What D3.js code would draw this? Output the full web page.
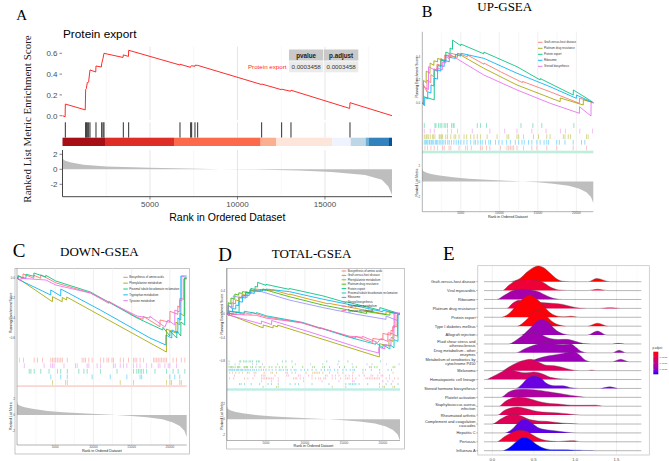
<!DOCTYPE html>
<html><head><meta charset="utf-8">
<script src="https://cdn.jsdelivr.net/npm/d3@7/dist/d3.min.js"></script>
<style>html,body{margin:0;padding:0;background:#fff;}svg{display:block;}</style>
</head><body>
<svg id="fig" width="669" height="461" xmlns="http://www.w3.org/2000/svg"></svg>
<script>
// ======================= DATA =======================
// ---- Panel A : single GSEA plot (Protein export) ----
const A_N = 18830;
const A_ES_RANK  = [0,150,162,1300,1324,1362,1419,1450,1495,1571,1900,1914,2220,2238,2314,2371,3460,3476,3770,3781,6700,6714,7310,7324,7381,7560,7571,7724,11370,11381,12510,12524,13040,13057,16410,16429,18830];
const A_ES_VALUE = [0,-0.01,0.112,0.056,0.253,0.26,0.32,0.315,0.33,0.44,0.42,0.478,0.468,0.50,0.55,0.60,0.56,0.585,0.57,0.629,0.488,0.495,0.465,0.475,0.48,0.475,0.485,0.484,0.30,0.305,0.25,0.255,0.235,0.245,0.07,0.125,0.0];
const A_HITS = [162,1324,1362,1419,1495,1571,1914,2238,2314,2371,3476,3781,6714,7324,7381,7571,7724,11381,12524,13057,16429];
const A_BAR_BREAKS = [0,2429,6371,11324,12200,15419,16467,17324,17514,18657,18830];
const A_METRIC_RANK  = [0,40,150,500,1200,2500,5000,7850,9000,10400,13500,15400,17300,18250,18620,18830];
const A_METRIC_VALUE = [2.2,1.35,1.15,0.9,0.6,0.38,0.22,0.09,0.02,-0.01,-0.16,-0.36,-0.76,-1.4,-2.3,-3.4];
const A_TABLE_HEAD = ["pvalue","p.adjust"];
const A_TABLE_ROW = ["Protein export","0.0003458","0.0003458"];
const A_ES_TICKS = [0,0.2,0.4,0.6];
const A_RM_TICKS = [-2,0,2];
const A_X_TICKS = [5000,10000,15000];

// ---- Panels B–D : multi-set GSEA (ranks in thousands) ----
const N_K = 22.2;
const RM_RANK_K = [0,0.1,0.5,1,2,4,6,8.4,11,13,15,17,19,20.4,21.3,21.9,22.2];
const RM_VALUE  = [1.7,1.35,1.15,1.0,0.8,0.52,0.35,0.22,0.1,0,-0.12,-0.3,-0.55,-0.95,-1.4,-2.0,-2.8];
const X_TICKS_K = [5,10,15,20];

// UP sets
const ES_GRAFT = [[0,0],[0.15,0],[0.16,0.16],[0.6,0.1],[0.61,0.2],[1.1,0.18],[1.11,0.25],[1.5,0.23],[1.51,0.3],[1.9,0.29],[1.91,0.34],[2.4,0.33],[2.41,0.39],[2.9,0.37],[2.91,0.42],[3.7,0.40],[3.71,0.435],[4.6,0.42],[4.61,0.435],[5.85,0.405],[5.86,0.42],[8,0.34],[8.01,0.35],[10.14,0.275],[13,0.18],[13.01,0.19],[16.6,0.10],[20.4,0.0],[20.41,0.046],[22.2,0.005]];
const ES_PLATINUM = [[0,0],[0.15,0],[0.16,0.2],[0.5,0.18],[0.51,0.28],[1.0,0.26],[1.01,0.35],[1.5,0.33],[1.51,0.37],[1.98,0.36],[1.99,0.39],[3.0,0.37],[3.01,0.42],[4.56,0.40],[4.57,0.435],[7.99,0.304],[12.3,0.159],[17.9,0.014],[17.91,0.046],[20.9,-0.015],[20.91,0.03],[22.2,0.005]];
const ES_PROTEIN = [[0,0],[0.15,0],[0.16,0.058],[1.55,0.03],[1.56,0.29],[2.0,0.28],[2.01,0.33],[2.41,0.32],[2.42,0.377],[3.05,0.36],[3.06,0.446],[3.6,0.43],[3.61,0.48],[3.92,0.47],[3.93,0.55],[5.0,0.5],[5.01,0.515],[7.99,0.43],[8.0,0.445],[12.3,0.318],[15.3,0.203],[15.31,0.215],[19.6,0.072],[19.61,0.116],[21.7,0.029],[22.2,0.005]];
const ES_RIBOSOME = [[0,0],[0.15,0],[0.16,-0.015],[0.3,-0.02],[0.31,0.05],[0.7,0.04],[0.71,0.10],[1.12,0.09],[1.13,0.16],[1.5,0.15],[1.51,0.22],[1.98,0.21],[1.99,0.29],[2.4,0.28],[2.41,0.33],[2.84,0.32],[2.85,0.377],[3.5,0.36],[3.51,0.40],[4.3,0.39],[4.31,0.425],[4.99,0.41],[5.0,0.435],[7.99,0.391],[12.3,0.261],[16.6,0.144],[20.0,0.043],[20.01,0.072],[22.2,0.005]];
const ES_STEROID = [[0,0],[0.15,0],[0.16,0.144],[0.8,0.12],[0.81,0.318],[1.89,0.28],[1.9,0.31],[2.6,0.29],[2.61,0.36],[3.05,0.35],[3.06,0.405],[3.47,0.39],[3.48,0.429],[7.99,0.246],[12.3,0.116],[16.6,0.0],[20.4,-0.087],[20.41,-0.03],[21.9,-0.11],[21.91,0.005],[22.2,0.005]];
const HITS_PROTEIN = [0.26,1.64,1.77,2.11,2.32,2.54,2.84,3.05,3.27,3.78,4.0,4.13,7.14,7.57,8.34,12.81,14.35,15.51,19.68];
const HITS_STEROID = [0.26,1.04,1.55,3.27,3.78,4.56,6.49,8.77,10.7,12.29,14.22,16.07,17.96,18.61,20.45,22.09];
const HITS_PLATINUM = [0.26,0.48,0.61,0.78,1.04,1.34,1.47,1.64,2.2,2.32,2.5,2.63,3.05,3.27,3.7,4.13,4.34,4.77,5.42,5.76,6.28,6.71,7.14,7.57,8.42,9.71,11.0,11.22,12.29,12.51,13.15,14.44,15.08,16.16,16.59,18.31,18.52,18.95,19.25,21.31,21.53];
const HITS_RIBOSOME = [0.26,0.4,0.55,0.7,0.9,1.0,1.2,1.35,1.5,1.7,1.85,2.0,2.2,2.4,2.6,2.8,3.0,3.3,3.5,3.8,4.1,4.4,4.7,5.0,5.4,5.8,6.28,6.71,6.92,7.22,7.57,7.78,8.21,8.64,8.85,9.5,9.93,10.36,10.92,11.43,12.08,12.51,12.94,13.24,13.79,14.22,14.87,15.3,15.81,16.16,16.37,17.45,17.79,18.52,19.59,20.67,21.1];
const HITS_GRAFT = [0.35,0.69,1.12,1.55,1.98,2.63,2.84,3.48,3.7,4.77,5.63,5.85,6.36,7.57,7.78,8.34,8.77,10.14,11.0,11.22,11.43,11.65,11.86,12.29,13.15,14.22,14.87,16.16,17.45,19.59,21.31];

// DOWN sets
const ES_BIOSYN = [[0,0],[0.13,0],[0.14,0.03],[0.78,0.0],[0.79,0.045],[2.2,0.0],[2.21,0.03],[3.1,0.0],[3.11,0.035],[5.07,-0.045],[9.61,-0.147],[12,-0.25],[12.01,-0.23],[15.71,-0.39],[16.5,-0.41],[16.51,-0.38],[18.7,-0.484],[18.71,-0.417],[20.0,-0.44],[20.01,-0.33],[21.03,-0.36],[21.04,-0.277],[21.29,-0.29],[21.3,-0.2],[21.81,-0.21],[21.82,-0.007],[22.2,-0.007]];
const ES_PHENYL = [[0,0],[0.13,0],[4.63,-0.234],[4.64,-0.184],[5.91,-0.234],[5.92,-0.192],[6.5,-0.217],[6.51,-0.187],[19.55,-0.737],[19.56,-0.507],[20.78,-0.547],[20.79,-0.437],[21.29,-0.467],[21.3,-0.347],[21.87,-0.377],[21.88,0],[22.2,0]];
const ES_PROXIMAL = [[0,0],[0.13,0],[0.14,0.02],[1.17,0.0],[1.18,0.04],[2.2,0.02],[2.21,0.053],[3.76,0.013],[3.77,0.03],[5.07,-0.027],[9.61,-0.137],[15.71,-0.397],[19.08,-0.517],[19.09,-0.49],[20.0,-0.577],[20.01,-0.527],[20.9,-0.597],[20.91,-0.527],[21.43,-0.577],[21.44,-0.437],[21.94,-0.467],[21.95,0.003],[22.2,0.003]];
const ES_TRYPTO = [[0,0],[0.13,0],[0.14,-0.01],[4.41,-0.167],[4.42,-0.117],[5.72,-0.177],[5.73,-0.107],[10.9,-0.317],[17.4,-0.597],[19.47,-0.667],[19.48,-0.567],[20.25,-0.597],[20.26,-0.517],[21.04,-0.547],[21.05,-0.397],[21.43,-0.417],[21.44,0.023],[22.2,0.023]];
const ES_TYROS = [[0,0],[0.13,0],[0.51,-0.027],[0.52,0.0],[3.76,-0.017],[5.07,-0.067],[9.61,-0.147],[15.71,-0.377],[17.37,-0.397],[17.38,-0.38],[19.34,-0.487],[19.74,-0.417],[20.64,-0.467],[20.65,-0.317],[21.29,-0.337],[21.3,-0.217],[21.55,-0.227],[21.56,0.023],[22.2,0.003]];
const HITS_BIOSYN = [0.31,0.86,2.25,2.68,3.33,4.42,4.64,4.85,5.07,5.28,5.5,5.72,5.93,6.58,8.52,8.75,8.96,9.4,9.83,10.91,11.34,11.77,11.99,12.42,12.63,13.51,13.94,14.59,15.24,15.45,15.67,16.1,16.53,17.84,18.05,18.27,18.48,18.7,18.92,19.13,19.35,19.56,20.42,20.86,21.5,21.95];
const HITS_TYROS = [0.96,3.55,4.42,4.64,4.85,6.15,7.66,7.87,9.18,9.4,10.48,10.91,12.63,12.85,13.51,13.94,14.37,15.24,15.67,16.1,16.96,17.62,18.48,18.7,19.35,19.78,19.99,20.86];
const HITS_PROXIMAL = [1.6,1.82,2.25,3.11,4.19,5.28,5.72,6.58,8.09,8.75,9.18,10.91,13.08,15.24,15.67,15.88,16.1,16.31,16.53,16.96,18.05,19.56,20.42,21.08,21.95];
const HITS_TRYPTO = [4.42,5.72,6.58,9.83,12.2,14.37,16.1,16.31,19.99,20.64,21.29];
const HITS_PHENYL = [4.64,6.36,6.58,13.51,15.24,19.56,20.0,20.21,21.29,21.5];

const UP_NAMES = ["Graft-versus-host disease","Platinum drug resistance","Protein export","Ribosome","Steroid biosynthesis"];
const DOWN_NAMES = ["Biosynthesis of amino acids","Phenylalanine metabolism","Proximal tubule bicarbonate reclamation","Tryptophan metabolism","Tyrosine metabolism"];
const TOTAL_NAMES = ["Biosynthesis of amino acids","Graft-versus-host disease","Phenylalanine metabolism","Platinum drug resistance","Protein export","Proximal tubule bicarbonate reclamation","Ribosome","Steroid biosynthesis","Tryptophan metabolism","Tyrosine metabolism"];
const B_ES_TICKS = [0,0.2,0.4];
const C_ES_TICKS = [0,-0.2,-0.4,-0.6];
const D_ES_TICKS = [0.4,0,-0.4,-0.8];
const RM_TICKS = [-2,0,2];

// ---- Panel E : ridgeline plot ----
const E_TERMS = ["Graft-versus-host disease","Viral myocarditis","Ribosome","Platinum drug resistance","Protein export","Type I diabetes mellitus","Allograft rejection","Fluid shear stress and\natherosclerosis","Drug metabolism - other\nenzymes","Metabolism of xenobiotics by\ncytochrome P450","Melanoma","Hematopoietic cell lineage","Steroid hormone biosynthesis","Platelet activation","Staphylococcus aureus\ninfection","Rheumatoid arthritis","Complement and coagulation\ncascades","Hepatitis C","Pertussis","Influenza A"];
const E_PADJ = [0.00010,0.00037,0.00127,0.00046,0.00012,0.000136,0.00136,0.00132,0.00136,0.00136,0.00064,0.00073,0.00168,0.00118,0.00064,0.0006,0.0006,0.00172,0.00037,0.0019];
const E_RIDGES = [
 [[0.2,0],[0.335,0.37],[0.415,1.05],[0.5,1.6],[0.55,1.76],[0.62,1.57],[0.7,0.94],[0.78,0.3],[0.85,0.05],[0.95,0],[1.16,0],[1.26,0.37],[1.42,0]],
 [[0.12,0],[0.2,0.6],[0.3,1.15],[0.4,1.25],[0.5,1.2],[0.6,1.0],[0.7,0.4],[0.8,0.08],[0.9,0.02],[1.0,0],[1.15,0],[1.27,0.15],[1.4,0]],
 [[0.05,0],[0.15,0.5],[0.25,1.0],[0.35,1.15],[0.45,1.1],[0.55,0.9],[0.65,0.45],[0.75,0.1],[0.85,0]],
 [[0.17,0],[0.25,0.6],[0.32,0.9],[0.4,0.85],[0.5,0.7],[0.6,0.65],[0.75,0.55],[0.85,0.45],[0.95,0.2],[1.05,0.03],[1.15,0],[1.3,0],[1.42,0.08],[1.55,0]],
 [[0.1,0],[0.2,0.4],[0.3,1.4],[0.4,2.3],[0.45,2.5],[0.5,2.3],[0.6,1.5],[0.7,0.5],[0.8,0.1],[0.88,0.05],[0.95,0.12],[1.05,0]],
 [[0.3,0],[0.4,0.6],[0.5,1.6],[0.55,1.8],[0.62,1.5],[0.7,0.7],[0.8,0.15],[0.9,0],[1.15,0],[1.27,0.33],[1.4,0]],
 [[0.35,0],[0.45,0.7],[0.55,1.6],[0.6,1.76],[0.68,1.4],[0.75,0.7],[0.85,0.15],[0.95,0],[1.15,0],[1.27,0.45],[1.38,0]],
 [[0.2,0],[0.3,0.5],[0.4,1.15],[0.48,1.35],[0.58,1.1],[0.7,0.6],[0.8,0.5],[0.9,0.52],[1.0,0.3],[1.1,0.05],[1.2,0],[1.45,0],[1.52,0.07],[1.6,0]],
 [[0.28,0],[0.4,0.5],[0.5,0.85],[0.6,1.1],[0.65,1.15],[0.75,1.0],[0.85,0.95],[0.95,1.0],[1.0,0.7],[1.08,0.15],[1.15,0],[1.45,0],[1.53,0.3],[1.62,0]],
 [[0.42,0],[0.5,0.2],[0.6,0.5],[0.7,0.7],[0.8,0.85],[0.9,1.05],[0.97,1.15],[1.05,0.8],[1.12,0.2],[1.2,0],[1.45,0],[1.55,0.28],[1.65,0]],
 [[0.12,0],[0.2,0.4],[0.3,0.9],[0.4,1.2],[0.46,1.27],[0.55,1.0],[0.65,0.6],[0.75,0.55],[0.85,0.35],[0.95,0.1],[1.05,0],[1.15,0],[1.2,0.05],[1.25,0]],
 [[-0.08,0],[0.0,0.3],[0.1,0.8],[0.2,1.16],[0.3,0.9],[0.4,0.75],[0.5,0.85],[0.6,0.65],[0.7,0.25],[0.8,0.1],[0.9,0.03],[1.0,0]],
 [[0.28,0],[0.35,0.4],[0.42,1.1],[0.5,1.4],[0.58,1.2],[0.65,0.6],[0.75,0.3],[0.85,0.3],[0.95,0.08],[1.05,0],[1.3,0],[1.42,0.18],[1.52,0]],
 [[0.1,0],[0.2,0.6],[0.3,0.88],[0.4,0.9],[0.5,0.85],[0.6,0.75],[0.7,0.6],[0.8,0.45],[0.9,0.3],[1.0,0.15],[1.1,0.03],[1.15,0]],
 [[0.08,0],[0.15,0.5],[0.25,0.95],[0.32,1.05],[0.4,0.95],[0.5,0.7],[0.6,0.45],[0.7,0.3],[0.8,0.25],[0.9,0.15],[1.0,0.1],[1.1,0.1],[1.25,0.12],[1.35,0]],
 [[0.06,0],[0.15,0.55],[0.25,0.85],[0.3,0.9],[0.4,0.75],[0.5,0.5],[0.6,0.35],[0.7,0.3],[0.8,0.25],[0.9,0.15],[1.0,0.05],[1.1,0]],
 [[0.0,0],[0.1,0.55],[0.2,1.0],[0.26,1.12],[0.35,0.9],[0.45,0.5],[0.55,0.35],[0.65,0.3],[0.75,0.2],[0.85,0.1],[0.95,0.05],[1.05,0]],
 [[0.15,0],[0.25,0.5],[0.32,1.2],[0.38,1.55],[0.45,1.3],[0.55,0.6],[0.65,0.35],[0.75,0.25],[0.85,0.12],[0.95,0.03],[1.05,0]],
 [[0.05,0],[0.15,0.6],[0.25,1.1],[0.33,1.3],[0.42,1.15],[0.5,0.7],[0.6,0.25],[0.7,0.08],[0.8,0.03],[0.9,0.1],[0.98,0.12],[1.05,0.02],[1.1,0]],
 [[0.12,0],[0.2,0.3],[0.3,1.1],[0.38,1.5],[0.45,1.3],[0.55,0.6],[0.65,0.2],[0.75,0.1],[0.85,0.1],[0.95,0.08],[1.05,0.05],[1.15,0.02],[1.25,0]]
];
const E_X_TICKS = [0,0.5,1.0,1.5];
const E_LEGEND_TICKS = [0.0005,0.0010,0.0015];

// ======================= RENDER =======================
const svg = d3.select("#fig");
const SANS = "'Liberation Sans', Arial, Helvetica, sans-serif";
const SERIF = "'Liberation Serif', 'Times New Roman', Times, serif";
svg.append("rect").attr("width",669).attr("height",461).attr("fill","#fff");

function txt(g, s, x, y, o = {}) {
  const t = g.append("text").attr("x", x).attr("y", y).text(s)
    .attr("font-family", o.family || SANS).attr("font-size", o.size || 8)
    .attr("fill", o.fill || "#000").attr("text-anchor", o.anchor || "start");
  if (o.weight) t.attr("font-weight", o.weight);
  if (o.rotate) t.attr("transform", `rotate(-90 ${x} ${y})`);
  return t;
}
function vlines(g, x, vals, y1, y2, color, w) {
  g.append("g").selectAll("line").data(vals).join("line")
    .attr("x1", d => x(d)).attr("x2", d => x(d)).attr("y1", y1).attr("y2", y2)
    .attr("stroke", color).attr("stroke-width", w);
}

// ---------------- Panel A ----------------
(function () {
  const g = svg.append("g");
  const x = d3.scaleLinear().domain([0, A_N]).range([62.5, 392]);
  const yES = d3.scaleLinear().domain([0, 0.6]).range([115.7, 53.3]);
  const yRM = d3.scaleLinear().domain([-2, 2]).range([184.3, 154.3]);
  const major = A_X_TICKS, minor = [2500, 7500, 12500, 17500];
  [[46.7, 120], [122.3, 137.7], [150, 196.7]].forEach(([t, b]) => {
    vlines(g, x, minor, t, b, "#f1f1f1", 0.6);
    vlines(g, x, major, t, b, "#e3e3e3", 0.9);
  });
  const es = A_ES_RANK.map((r, i) => [r, A_ES_VALUE[i]]);
  g.append("path").datum(es).attr("fill", "none").attr("stroke", "#ff2b2b").attr("stroke-width", 1)
    .attr("d", d3.line().x(d => x(d[0])).y(d => yES(d[1])));
  A_ES_TICKS.forEach(v => {
    txt(g, d3.format(".1f")(v), 57.5, yES(v) + 2.8, { size: 8, fill: "#4d4d4d", anchor: "end" });
    g.append("line").attr("x1", 59.5).attr("x2", 62).attr("y1", yES(v)).attr("y2", yES(v)).attr("stroke", "#333").attr("stroke-width", 0.6);
  });
  vlines(g, x, A_HITS, 122.3, 137.7, "#1a1a1a", 0.9);
  const barCols = ["#A50F15","#DE2D26","#FB6A4A","#FCAE91","#FEE5D9","#EFF3FF","#BDD7E7","#6BAED6","#3182BD","#08519C"];
  g.append("g").selectAll("rect").data(d3.range(A_BAR_BREAKS.length - 1)).join("rect")
    .attr("x", i => x(A_BAR_BREAKS[i])).attr("width", i => x(A_BAR_BREAKS[i + 1]) - x(A_BAR_BREAKS[i]))
    .attr("y", 137.7).attr("height", 8.3).attr("fill", i => barCols[i]);
  const rm = A_METRIC_RANK.map((r, i) => [r, A_METRIC_VALUE[i]]);
  g.append("path").datum(rm).attr("fill", "#bebebe")
    .attr("d", d3.area().x(d => x(d[0])).y0(yRM(0)).y1(d => yRM(d[1])));
  g.append("line").attr("x1", 62.5).attr("x2", 62.5).attr("y1", 150).attr("y2", 196.7).attr("stroke", "#333").attr("stroke-width", 0.9);
  g.append("line").attr("x1", 62.5).attr("x2", 392).attr("y1", 196.7).attr("y2", 196.7).attr("stroke", "#333").attr("stroke-width", 0.9);
  A_RM_TICKS.forEach(v => {
    txt(g, String(v), 57.5, yRM(v) + 2.8, { size: 8, fill: "#4d4d4d", anchor: "end" });
    g.append("line").attr("x1", 59.5).attr("x2", 62.5).attr("y1", yRM(v)).attr("y2", yRM(v)).attr("stroke", "#333").attr("stroke-width", 0.6);
  });
  A_X_TICKS.forEach(v => {
    txt(g, String(v), x(v), 207.3, { size: 8, fill: "#4d4d4d", anchor: "middle" });
    g.append("line").attr("x1", x(v)).attr("x2", x(v)).attr("y1", 196.7).attr("y2", 199.5).attr("stroke", "#333").attr("stroke-width", 0.6);
  });
  txt(g, "Rank in Ordered Dataset", 227.3, 220.5, { size: 10.5, anchor: "middle" });
  txt(g, "Ranked List Metric Enrichment Score", 31, 119, { size: 11, family: SERIF, anchor: "middle", rotate: true, fill: "#222" });
  txt(g, "Protein export", 63, 38.3, { size: 11.8 });
  const cw = 34.3, tx = 289, ty = 49.5, rh = 11;
  A_TABLE_HEAD.forEach((h, i) => {
    g.append("rect").attr("x", tx + i * (cw + 0.7)).attr("y", ty).attr("width", cw).attr("height", rh).attr("fill", "#c9c9c9");
    txt(g, h, tx + i * (cw + 0.7) + cw / 2, ty + 8, { size: 6.3, weight: "bold", anchor: "middle", fill: "#222" });
    g.append("rect").attr("x", tx + i * (cw + 0.7)).attr("y", ty + rh + 0.8).attr("width", cw).attr("height", rh).attr("fill", "#ebebeb");
    txt(g, A_TABLE_ROW[i + 1], tx + i * (cw + 0.7) + cw / 2, ty + rh + 8.8, { size: 6.2, anchor: "middle", fill: "#333" });
  });
  txt(g, A_TABLE_ROW[0], 286.5, ty + rh + 8.8, { size: 6.2, anchor: "end", fill: "#ff2b2b" });
  txt(g, "A", 16.3, 19.5, { size: 15, family: SERIF });
})();

// ---------------- Panels B–D ----------------
function gseaMulti(c) {
  const g = svg.append("g");
  const x = d3.scaleLinear().domain([0, N_K]).range([c.x0, c.x1]);
  const yES = d3.scaleLinear().domain([0, c.esTick]).range([c.esZero, c.esTickY]);
  const yR = d3.scaleLinear().domain([0, 2]).range([c.rZero, c.rTwo]);
  if (c.frame) g.append("rect").attr("x", c.frame[0]).attr("y", c.frame[1]).attr("width", c.frame[2] - c.frame[0]).attr("height", c.frame[3] - c.frame[1])
    .attr("fill", "none").attr("stroke", "#a0a0a0").attr("stroke-width", 0.6);
  vlines(g, x, [2.5, 7.5, 12.5, 17.5], c.esTop, c.rBottom, "#f0f0f0", 0.5);
  vlines(g, x, X_TICKS_K, c.esTop, c.rBottom, "#e4e4e4", 0.6);
  c.sets.forEach(s => {
    g.append("path").datum(s.curve).attr("fill", "none").attr("stroke", s.color).attr("stroke-width", 0.85)
      .attr("d", d3.line().x(d => x(d[0])).y(d => yES(d[1])));
  });
  c.esTicks.forEach(v => {
    txt(g, d3.format(".1f")(v), c.x0 - 2, yES(v) + 1.1, { size: 3.1, fill: "#555", anchor: "end" });
  });
  c.hitOrder.forEach((s, j) => {
    const t = c.hitTop + j * c.rowH;
    g.append("g").selectAll("line").data(s.hits).join("line")
      .attr("x1", d => x(d)).attr("x2", d => x(d)).attr("y1", t + 0.4).attr("y2", t + c.rowH - 0.4)
      .attr("stroke", s.color).attr("stroke-width", 0.7).attr("opacity", 0.6);
  });
  g.append("rect").attr("x", c.x0).attr("y", c.barY).attr("width", c.x1 - c.x0).attr("height", c.barH).attr("fill", c.barColor);
  const rm = RM_RANK_K.map((r, i) => [r, RM_VALUE[i]]);
  g.append("path").datum(rm).attr("fill", "#bebebe")
    .attr("d", d3.area().x(d => x(d[0])).y0(yR(0)).y1(d => yR(d[1])));
  RM_TICKS.forEach(v => txt(g, String(v), c.x0 - 2, yR(v) + 1.1, { size: 3.1, fill: "#555", anchor: "end" }));
  g.append("line").attr("x1", c.x0).attr("x2", c.x0).attr("y1", c.esTop).attr("y2", c.rBottom).attr("stroke", "#666").attr("stroke-width", 0.5);
  g.append("line").attr("x1", c.x0).attr("x2", c.x1).attr("y1", c.rBottom).attr("y2", c.rBottom).attr("stroke", "#666").attr("stroke-width", 0.5);
  X_TICKS_K.forEach(v => txt(g, String(v * 1000), x(v), c.xLabY, { size: 3.1, fill: "#555", anchor: "middle" }));
  txt(g, "Rank in Ordered Dataset", (c.x0 + c.x1) / 2, c.xTitleY, { size: 3.6, anchor: "middle", fill: "#222" });
  txt(g, "Running Enrichment Score", c.yTitleX, (c.esTop + c.hitTop) / 2, { size: 3.4, anchor: "middle", rotate: true, fill: "#222" });
  txt(g, "Ranked List Metric", c.yTitleX, (c.rTop + c.rBottom) / 2, { size: 3.4, anchor: "middle", rotate: true, fill: "#222" });
  c.sets.forEach((s, i) => {
    const y = c.legY + i * c.legStep;
    g.append("line").attr("x1", c.legX).attr("x2", c.legX + 4.5).attr("y1", y).attr("y2", y).attr("stroke", s.color).attr("stroke-width", 0.9);
    txt(g, s.name, c.legX + 6, y + 1, { size: 2.8, fill: "#333" });
  });
  txt(g, c.letter, c.letterX, c.letterY, { size: c.letterSize, family: SERIF });
  txt(g, c.title, c.titleX, c.titleY, { size: 13, family: SERIF });
}

const HUE5 = ["#F8766D", "#A3A500", "#00BF7D", "#00B0F6", "#E76BF3"];
const HUE10 = ["#F8766D", "#D89000", "#A3A500", "#39B600", "#00BF7D", "#00BFC4", "#00B0F6", "#9590FF", "#E76BF3", "#FF62BC"];
const upCurves = [ES_GRAFT, ES_PLATINUM, ES_PROTEIN, ES_RIBOSOME, ES_STEROID];
const upHits = [HITS_GRAFT, HITS_PLATINUM, HITS_PROTEIN, HITS_RIBOSOME, HITS_STEROID];
const downCurves = [ES_BIOSYN, ES_PHENYL, ES_PROXIMAL, ES_TRYPTO, ES_TYROS];
const downHits = [HITS_BIOSYN, HITS_PHENYL, HITS_PROXIMAL, HITS_TRYPTO, HITS_TYROS];
const upSets = UP_NAMES.map((n, i) => ({ name: n, color: HUE5[i], curve: upCurves[i], hits: upHits[i] }));
const downSets = DOWN_NAMES.map((n, i) => ({ name: n, color: HUE5[i], curve: downCurves[i], hits: downHits[i] }));

gseaMulti({
  x0: 422.3, x1: 593.3, esTop: 31.7, esZero: 103.3, esTick: 0.2, esTickY: 80.3, esTicks: B_ES_TICKS,
  hitTop: 122.7, rowH: 5.6, barY: 150.7, barH: 2.6, barColor: "#bfeedd",
  hitOrder: [upSets[2], upSets[4], upSets[1], upSets[3], upSets[0]],
  rTop: 153.3, rBottom: 211.7, rZero: 181.4, rTwo: 165.9,
  xLabY: 213.8, xTitleY: 218.2, yTitleX: 418.3,
  sets: upSets, legX: 538, legY: 42.3, legStep: 6,
  letter: "B", letterX: 421.7, letterY: 16.7, letterSize: 16, title: "UP-GSEA", titleX: 477.3, titleY: 10.8
});
gseaMulti({
  x0: 17, x1: 186.7, esTop: 268.3, esZero: 278.3, esTick: -0.2, esTickY: 298.3, esTicks: C_ES_TICKS,
  hitTop: 357.3, rowH: 5.6, barY: 385.3, barH: 1.6, barColor: "#f9d2ce",
  hitOrder: [downSets[0], downSets[4], downSets[2], downSets[3], downSets[1]],
  rTop: 386.7, rBottom: 445, rZero: 415, rTwo: 399.3,
  xLabY: 447.6, xTitleY: 451.8, yTitleX: 12.5,
  sets: downSets, legX: 123.3, legY: 277.3, legStep: 5.85,
  frame: [15, 268.3, 189.5, 454],
  letter: "C", letterX: 12.7, letterY: 256.7, letterSize: 19, title: "DOWN-GSEA", titleX: 60, titleY: 255.7
});
const totalSets = TOTAL_NAMES.map((n, i) => {
  const ui = UP_NAMES.indexOf(n), di = DOWN_NAMES.indexOf(n);
  return { name: n, color: HUE10[i], curve: ui >= 0 ? upCurves[ui] : downCurves[di], hits: ui >= 0 ? upHits[ui] : downHits[di] };
});
gseaMulti({
  x0: 227, x1: 400, esTop: 268.3, esZero: 314.3, esTick: -0.4, esTickY: 337.5, esTicks: D_ES_TICKS,
  hitTop: 360, rowH: 2.83, barY: 388.3, barH: 2.4, barColor: "#bdeee6",
  hitOrder: [totalSets[4], totalSets[7], totalSets[3], totalSets[6], totalSets[1], totalSets[9], totalSets[0], totalSets[8], totalSets[5], totalSets[2]],
  rTop: 390.7, rBottom: 440.5, rZero: 419.3, rTwo: 404,
  xLabY: 443.6, xTitleY: 447.3, yTitleX: 223,
  sets: totalSets, legX: 341.7, legY: 271, legStep: 4.4,
  frame: [226.7, 268.3, 404.3, 449],
  letter: "D", letterX: 218.3, letterY: 260.7, letterSize: 19, title: "TOTAL-GSEA", titleX: 271.7, titleY: 257.7
});

// ---------------- Panel E ----------------
(function () {
  const g = svg.append("g");
  const x = d3.scaleLinear().domain([0, 0.5]).range([492.3, 533.7]);
  const row = d3.scalePoint().domain(d3.range(E_TERMS.length)).range([281.7, 450.7]);
  const unit = 8.9;
  const col = d3.scaleLinear().domain([0.0001, 0.0019]).range(["#ff0000", "#0000ff"]).interpolate(d3.interpolateLab);
  g.append("rect").attr("x", 477.8).attr("y", 265.7).attr("width", 171.5).attr("height", 189.3)
    .attr("fill", "none").attr("stroke", "#bdbdbd").attr("stroke-width", 0.7);
  vlines(g, x, [0.25, 0.75, 1.25, 1.75], 266, 455, "#f2f2f2", 0.4);
  vlines(g, x, E_X_TICKS, 266, 455, "#e6e6e6", 0.6);
  E_RIDGES.forEach((pts, i) => {
    const full = [[-0.1, 0], ...pts, [1.8, 0]];
    const base = row(i);
    g.append("path").datum(full).attr("fill", col(E_PADJ[i]))
      .attr("d", d3.area().curve(d3.curveMonotoneX).x(d => x(d[0])).y0(base).y1(d => base - d[1] * unit));
    g.append("path").datum(full).attr("fill", "none").attr("stroke", "#4a4a4a").attr("stroke-width", 0.4)
      .attr("d", d3.line().curve(d3.curveMonotoneX).x(d => x(d[0])).y(d => base - d[1] * unit));
  });
  E_TERMS.forEach((t, i) => {
    const lines = t.split("\n");
    const base = row(i);
    g.append("line").attr("x1", 476.2).attr("x2", 477.8).attr("y1", base).attr("y2", base).attr("stroke", "#555").attr("stroke-width", 0.4);
    lines.forEach((l, k) => {
      const yy = lines.length === 1 ? base + 1.4 : base + (k === 0 ? -0.7 : 3.3);
      txt(g, l, 475.5, yy, { size: 3.9, fill: "#333", anchor: "end" });
    });
  });
  E_X_TICKS.forEach(v => txt(g, d3.format(".1f")(v), x(v), 460.5, { size: 4.2, fill: "#555", anchor: "middle" }));
  const lg = svg.append("defs").append("linearGradient").attr("id", "padj").attr("x1", 0).attr("x2", 0).attr("y1", 0).attr("y2", 1);
  d3.range(0, 1.0001, 0.1).forEach(t => lg.append("stop").attr("offset", t).attr("stop-color", col(0.0001 + t * 0.0018)));
  const ly = d3.scaleLinear().domain([0.0001, 0.0019]).range([351.7, 374.3]);
  g.append("rect").attr("x", 653.3).attr("y", 351.7).attr("width", 5).attr("height", 22.6).attr("fill", "url(#padj)");
  txt(g, "p.adjust", 652.5, 349.3, { size: 2.8, fill: "#333" });
  E_LEGEND_TICKS.forEach(v => {
    txt(g, d3.format(".4f")(v), 659.6, ly(v) + 0.9, { size: 2.5, fill: "#444" });
    g.append("line").attr("x1", 653.3).attr("x2", 654.3).attr("y1", ly(v)).attr("y2", ly(v)).attr("stroke", "#fff").attr("stroke-width", 0.3);
  });
  txt(g, "E", 443, 260, { size: 19, family: SERIF });
})();
</script>
</body></html>
